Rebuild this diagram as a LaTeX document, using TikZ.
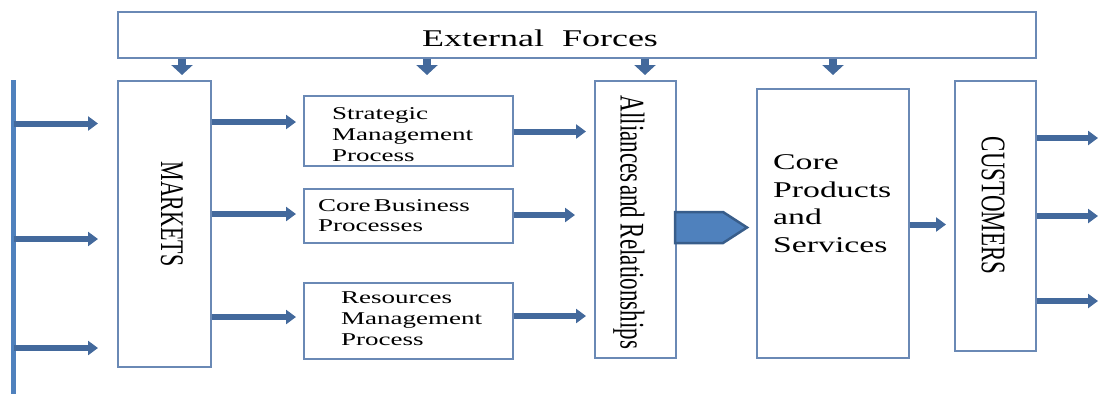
\documentclass[tikz,border=0pt]{standalone}
\usepackage{fontspec}
\setmainfont{Liberation Serif}
\usetikzlibrary{arrows.meta}

\definecolor{frame}{HTML}{6A89B5}
\definecolor{arrowblue}{HTML}{43699C}
\definecolor{barblue}{HTML}{4F81BD}
\definecolor{pentedge}{HTML}{385D8A}

% wide lettering for horizontal labels, tall lettering for turned labels
\newcommand{\wideh}[1]{\scalebox{1.5}[1]{#1}}
\newcommand{\widev}[1]{\scalebox{1}[1.5]{#1}}
\newcommand{\lines}[1]{\begin{tabular}[t]{@{}l@{}}#1\end{tabular}}

\begin{document}
\begin{tikzpicture}[x=1pt,y=-1pt,
  box/.style={draw=frame, line width=1.3pt, fill=white, inner sep=0pt},
  lbl/.style={inner sep=0pt, text=black},
  flow/.style={draw=arrowblue, line width=6pt, -{Triangle[length=10pt,width=14pt]}},
  drop/.style={draw=arrowblue, line width=8pt, -{Triangle[length=10pt,width=21pt]}},
  feed/.style={draw=barblue, line width=5pt},
]
\useasboundingbox (0,0) rectangle (1099,394);

% ---- boxes ----
\node[box, minimum width=918pt, minimum height=46pt] (ext)     at (577,35)    {};
\node[box, minimum width=93pt,  minimum height=286pt] (markets) at (164.5,224) {};
\node[box, minimum width=209pt, minimum height=70pt]  (strat)   at (408.5,131) {};
\node[box, minimum width=209pt, minimum height=54pt]  (core)    at (408.5,216) {};
\node[box, minimum width=209pt, minimum height=76pt]  (res)     at (408.5,321) {};
\node[box, minimum width=81pt,  minimum height=277pt] (alli)    at (635.5,219.5) {};
\node[box, minimum width=152pt, minimum height=269pt] (prod)    at (833,223.5) {};
\node[box, minimum width=81pt,  minimum height=270pt] (cust)    at (995.5,216) {};

% ---- labels ----
\node[lbl, anchor=base, font=\fontsize{24}{28}\selectfont] (extlbl) at (540,46)
  {\wideh{External\ \ Forces}};
\node[lbl, rotate=-90, font=\fontsize{22}{26}\selectfont] (marketslbl) at (172,214)
  {\widev{MARKETS}};
\node[lbl, anchor=base west, font=\fontsize{18}{21}\selectfont] (stratlbl) at (332,119.5)
  {\wideh{\lines{Strategic\\Management\\Process}}};
\node[lbl, anchor=base west, font=\fontsize{18}{20}\selectfont] (corelbl) at (318,211.5)
  {\wideh{\lines{Core\hspace{0.12em}Business\\Processes}}};
\node[lbl, anchor=base west, font=\fontsize{18}{21}\selectfont] (reslbl) at (341,303.5)
  {\wideh{\lines{Resources\\Management\\Process}}};
\node[lbl, rotate=-90, font=\fontsize{23}{27}\selectfont] (allilbl) at (629,222.5)
  {\widev{Alliances\hspace{0.1em}and Relationships}};
\node[lbl, anchor=base west, font=\fontsize{22.5}{27.5}\selectfont] (prodlbl) at (773,169.5)
  {\wideh{\lines{Core\\Products\\and\\Services}}};
\node[lbl, rotate=-90, font=\fontsize{23}{27}\selectfont] (custlbl) at (993,205.5)
  {\widev{CUSTOMERS}};

% ---- feed bar on the left ----
\coordinate (bartop) at (13.5,80);
\coordinate (barbot) at (13.5,394);
\draw[feed] (bartop) -- (barbot);

% ---- arrow end points ----
\coordinate (in1) at (98,123.5);
\coordinate (in2) at (98,239);
\coordinate (in3) at (98,348);
\coordinate (m1) at (296,122);
\coordinate (m2) at (296,214);
\coordinate (m3) at (296,317);
\coordinate (s1) at (586,131.5);
\coordinate (s2) at (575,215);
\coordinate (s3) at (586,316);
\coordinate (p1) at (946,224.5);
\coordinate (o1) at (1098,138);
\coordinate (o2) at (1098,216);
\coordinate (o3) at (1098,301);

% inputs into the markets
\draw[flow] (bartop |- in1) -- (in1);
\draw[flow] (bartop |- in2) -- (in2);
\draw[flow] (bartop |- in3) -- (in3);
% markets into the processes
\draw[flow] (markets.east |- m1) -- (m1);
\draw[flow] (markets.east |- m2) -- (m2);
\draw[flow] (markets.east |- m3) -- (m3);
% processes onward
\draw[flow] (strat.east |- s1) -- (s1);
\draw[flow] (core.east |- s2) -- (s2);
\draw[flow] (res.east |- s3) -- (s3);
% products to customers
\draw[flow] (prod.east |- p1) -- (p1);
% customers outputs
\draw[flow] (cust.east |- o1) -- (o1);
\draw[flow] (cust.east |- o2) -- (o2);
\draw[flow] (cust.east |- o3) -- (o3);

% external forces pressing down
\coordinate (d1) at (182,75);
\coordinate (d2) at (427,75);
\coordinate (d3) at (645,75);
\coordinate (d4) at (833,75);
\draw[drop] (ext.south -| d1) -- (d1);
\draw[drop] (ext.south -| d2) -- (d2);
\draw[drop] (ext.south -| d3) -- (d3);
\draw[drop] (ext.south -| d4) -- (d4);

% pentagon pointer between alliances and products
\draw[line width=2.5pt, draw=pentedge, fill=barblue, line join=miter]
  (675,212) -- (723,212) -- (747,227.5) -- (723,243) -- (675,243) -- cycle;
\end{tikzpicture}
\end{document}
